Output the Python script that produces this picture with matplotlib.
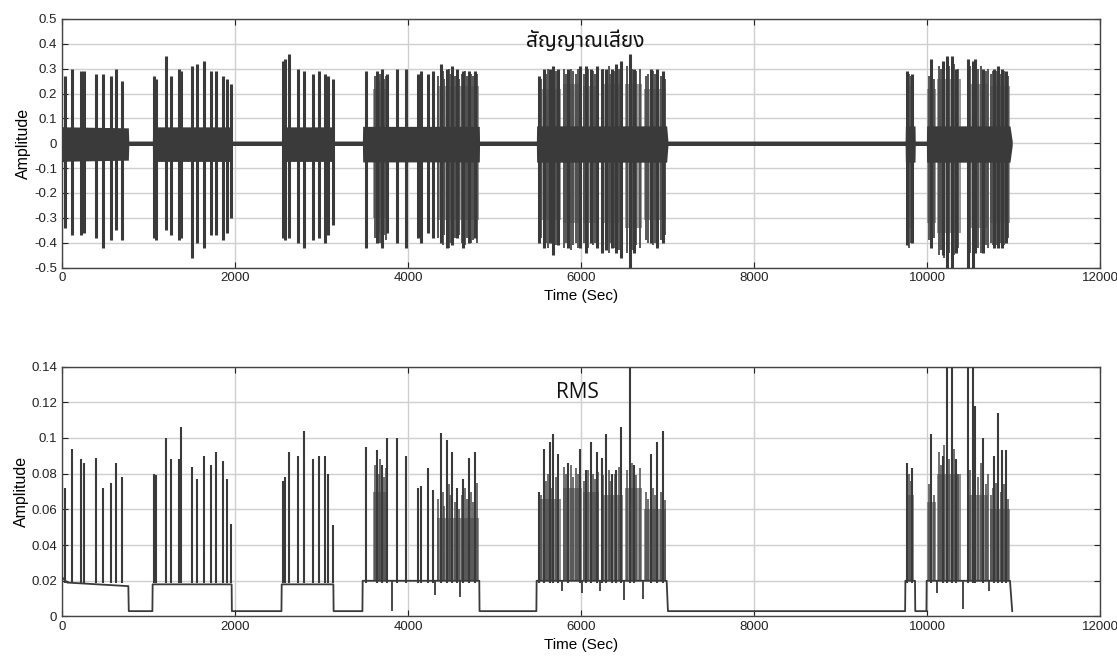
import matplotlib
matplotlib.use("Agg")
import matplotlib.pyplot as plt

plt.rcParams['font.family'] = ['Liberation Sans', 'DejaVu Sans']

# ---- data ----
xticks = [0, 2000, 4000, 6000, 8000, 10000, 12000]
top_yticks = [-0.5, -0.4, -0.3, -0.2, -0.1, 0, 0.1, 0.2, 0.3, 0.4, 0.5]
top_ylabels = ['-0.5', '-0.4', '-0.3', '-0.2', '-0.1', '0', '0.1', '0.2', '0.3', '0.4', '0.5']
bot_yticks = [0, 0.02, 0.04, 0.06, 0.08, 0.1, 0.12, 0.14]
bot_ylabels = ['0', '0.02', '0.04', '0.06', '0.08', '0.1', '0.12', '0.14']

# RMS floor (active stretches ~0.02, silent stretches ~0.003)
rms_base_t = [0, 60, 767, 772, 1045, 1048, 1961, 1964, 2537, 2540, 3137, 3140, 3473,
              3476, 4824, 4827, 5484, 5487, 6990, 7005, 9747, 9750, 9861, 9864, 9993,
              9996, 10959, 10985]
rms_base_v = [0.022, 0.019, 0.017, 0.003, 0.003, 0.018, 0.018, 0.003, 0.003, 0.018,
              0.018, 0.003, 0.003, 0.020, 0.020, 0.003, 0.003, 0.020, 0.020, 0.003,
              0.003, 0.020, 0.020, 0.003, 0.003, 0.020, 0.020, 0.003]

# signal envelope of the background noise
sig_env_hi = [0.067, 0.066, 0.062, 0.009, 0.009, 0.066, 0.066, 0.009, 0.009, 0.066,
              0.066, 0.009, 0.009, 0.068, 0.068, 0.009, 0.009, 0.070, 0.070, 0.009,
              0.009, 0.070, 0.070, 0.009, 0.009, 0.070, 0.070, 0.009]
sig_env_lo = [-0.074, -0.072, -0.068, -0.009, -0.009, -0.073, -0.073, -0.009, -0.009,
              -0.073, -0.073, -0.009, -0.009, -0.075, -0.075, -0.009, -0.009, -0.076,
              -0.076, -0.009, -0.009, -0.076, -0.076, -0.009, -0.009, -0.076, -0.076,
              -0.009]

# main spikes: time, RMS peak, signal max, signal min
spk_t = [35, 120, 220, 258, 393, 478, 563, 624, 690,
         1067, 1087, 1202, 1260, 1352, 1376, 1506, 1557, 1638, 1719, 1784, 1865, 1911, 1950,
         2559, 2578, 2624, 2732, 2801, 2898, 2975, 3040, 3079, 3129,
         3514, 3638, 3700, 3753, 3873, 3973, 4115, 4147, 4235, 4292, 4377, 4446, 4512,
         4570, 4640, 4705, 4774,
         5514, 5572, 5641, 5680, 5738, 5850, 5988, 6054, 6112, 6181, 6239, 6289, 6360,
         6410, 6462, 6566, 6610, 6805, 6882, 6951,
         9772, 9830, 10042, 10180, 10227, 10285, 10340, 10477, 10527, 10560, 10650,
         10780, 10823, 10870, 10912]
spk_rms = [0.072, 0.094, 0.088, 0.086, 0.089, 0.072, 0.075, 0.086, 0.078,
           0.080, 0.079, 0.100, 0.088, 0.088, 0.106, 0.084, 0.077, 0.090, 0.085, 0.092,
           0.087, 0.077, 0.052,
           0.076, 0.078, 0.092, 0.090, 0.104, 0.088, 0.090, 0.090, 0.080, 0.051,
           0.095, 0.093, 0.085, 0.100, 0.100, 0.090, 0.072, 0.073, 0.083, 0.071, 0.103,
           0.099, 0.092, 0.072, 0.077, 0.089, 0.092,
           0.070, 0.094, 0.098, 0.102, 0.091, 0.086, 0.094, 0.082, 0.098, 0.092, 0.089,
           0.102, 0.080, 0.082, 0.106, 0.160, 0.085, 0.091, 0.098, 0.104,
           0.086, 0.083, 0.102, 0.090, 0.160, 0.160, 0.088, 0.160, 0.160, 0.118, 0.100,
           0.090, 0.114, 0.093, 0.093]
spk_hi = [0.27, 0.30, 0.29, 0.29, 0.28, 0.28, 0.27, 0.30, 0.25,
          0.27, 0.26, 0.35, 0.27, 0.30, 0.29, 0.31, 0.32, 0.33, 0.29, 0.29, 0.27, 0.26, 0.24,
          0.33, 0.34, 0.36, 0.30, 0.29, 0.28, 0.29, 0.28, 0.27, 0.26,
          0.29, 0.29, 0.30, 0.28, 0.30, 0.30, 0.28, 0.29, 0.28, 0.29, 0.32, 0.30, 0.31,
          0.30, 0.29, 0.29, 0.29,
          0.27, 0.30, 0.30, 0.31, 0.30, 0.30, 0.31, 0.31, 0.30, 0.31, 0.30, 0.30, 0.30,
          0.32, 0.33, 0.36, 0.30, 0.30, 0.30, 0.29,
          0.29, 0.28, 0.34, 0.33, 0.35, 0.35, 0.30, 0.34, 0.33, 0.34, 0.30, 0.30, 0.31,
          0.30, 0.29]
spk_lo = [-0.34, -0.37, -0.37, -0.36, -0.38, -0.42, -0.39, -0.35, -0.39,
          -0.38, -0.39, -0.35, -0.37, -0.39, -0.38, -0.46, -0.40, -0.42, -0.37, -0.37,
          -0.39, -0.36, -0.30,
          -0.38, -0.39, -0.38, -0.40, -0.42, -0.39, -0.38, -0.40, -0.37, -0.33,
          -0.42, -0.40, -0.42, -0.36, -0.40, -0.42, -0.38, -0.40, -0.36, -0.38, -0.40,
          -0.42, -0.41, -0.38, -0.42, -0.40, -0.38,
          -0.40, -0.42, -0.40, -0.45, -0.41, -0.42, -0.42, -0.44, -0.40, -0.42, -0.44,
          -0.43, -0.42, -0.44, -0.46, -0.52, -0.44, -0.40, -0.42, -0.40,
          -0.41, -0.40, -0.42, -0.45, -0.52, -0.50, -0.44, -0.52, -0.50, -0.44, -0.44,
          -0.42, -0.42, -0.42, -0.40]

# smaller peaks packed inside the busy stretches
minor_t = [3620, 3660, 3680, 3720, 3740, 4350, 4400, 4420, 4470, 4490, 4540, 4590,
           4620, 4660, 4680, 4730, 4750, 4800, 5540, 5600, 5620, 5660, 5710, 5800,
           5830, 5880, 5910, 5940, 5970, 6040, 6080, 6140, 6160, 6200, 6260, 6320,
           6340, 6390, 6440, 6530, 6590, 6640, 6680, 6750, 6780, 6830, 6860, 6920,
           6970, 9790, 9810, 10020, 10080, 10140, 10160, 10200, 10250, 10310, 10360,
           10500, 10590, 10620, 10680, 10700, 10740, 10760, 10800, 10850, 10890, 10940]
minor_rms = [0.085, 0.080, 0.088, 0.078, 0.083, 0.066, 0.070, 0.062, 0.074, 0.068,
             0.064, 0.060, 0.068, 0.072, 0.066, 0.070, 0.064, 0.075, 0.068, 0.076,
             0.080, 0.072, 0.078, 0.084, 0.080, 0.085, 0.078, 0.083, 0.080, 0.076,
             0.082, 0.080, 0.077, 0.081, 0.079, 0.082, 0.076, 0.080, 0.084, 0.082,
             0.086, 0.079, 0.083, 0.070, 0.066, 0.072, 0.068, 0.070, 0.065, 0.080,
             0.076, 0.074, 0.068, 0.092, 0.085, 0.096, 0.088, 0.094, 0.080, 0.082,
             0.078, 0.086, 0.074, 0.080, 0.068, 0.072, 0.075, 0.070, 0.074, 0.066]
minor_hi = [0.27, 0.25, 0.28, 0.26, 0.27, 0.27, 0.29, 0.26, 0.30, 0.28, 0.27, 0.26,
            0.28, 0.29, 0.27, 0.28, 0.27, 0.28, 0.26, 0.28, 0.30, 0.27, 0.29, 0.30,
            0.28, 0.30, 0.29, 0.28, 0.30, 0.28, 0.30, 0.29, 0.28, 0.29, 0.30, 0.31,
            0.28, 0.29, 0.30, 0.31, 0.30, 0.29, 0.30, 0.27, 0.28, 0.29, 0.28, 0.27,
            0.26, 0.28, 0.27, 0.27, 0.26, 0.31, 0.30, 0.32, 0.31, 0.32, 0.30, 0.31,
            0.30, 0.31, 0.29, 0.30, 0.28, 0.29, 0.29, 0.28, 0.29, 0.27]
minor_lo = [-0.38, -0.36, -0.40, -0.37, -0.39, -0.38, -0.41, -0.37, -0.42, -0.40,
            -0.38, -0.37, -0.40, -0.41, -0.38, -0.40, -0.39, -0.40, -0.38, -0.40,
            -0.42, -0.39, -0.41, -0.42, -0.40, -0.43, -0.41, -0.40, -0.42, -0.40,
            -0.42, -0.41, -0.40, -0.41, -0.42, -0.44, -0.40, -0.42, -0.43, -0.44,
            -0.43, -0.41, -0.42, -0.39, -0.40, -0.41, -0.40, -0.39, -0.37, -0.42,
            -0.40, -0.39, -0.38, -0.45, -0.43, -0.46, -0.44, -0.45, -0.42, -0.44,
            -0.42, -0.44, -0.41, -0.42, -0.40, -0.41, -0.41, -0.40, -0.41, -0.38]

# short drops of the RMS inside active stretches
dip_t = [3811, 4312, 4601, 5776, 6015, 6219, 6500, 6720, 10111, 10420, 10719]
dip_v = [0.003, 0.012, 0.011, 0.014, 0.013, 0.014, 0.009, 0.010, 0.013, 0.004, 0.014]

# dense, busy stretches: start, end, RMS top, signal max, signal min
blk_start = [3600, 4330, 5520, 5790, 6025, 6230, 6510, 6730, 9755, 10000, 10120, 10470, 10730]
blk_end = [3760, 4820, 5770, 6010, 6210, 6490, 6710, 6985, 9855, 10105, 10390, 10710, 10955]
blk_rms = [0.070, 0.055, 0.066, 0.072, 0.070, 0.068, 0.072, 0.060, 0.068, 0.064, 0.080,
           0.068, 0.060]
blk_hi = [0.22, 0.23, 0.22, 0.24, 0.23, 0.24, 0.24, 0.22, 0.23, 0.22, 0.26, 0.24, 0.23]
blk_lo = [-0.30, -0.31, -0.31, -0.32, -0.32, -0.32, -0.34, -0.31, -0.34, -0.32, -0.36,
          -0.34, -0.32]

col = '#3a3a3a'
fig = plt.figure(figsize=(11.17, 6.72), dpi=100)
ax1 = fig.add_axes([0.0555, 0.6018, 0.9293, 0.3700])
ax2 = fig.add_axes([0.0555, 0.0826, 0.9293, 0.3720])

# top: raw signal
for s, e, h, l in zip(blk_start, blk_end, blk_hi, blk_lo):
    ax1.fill_between([s, e], [l, l], [h, h], color='#707070', lw=0, alpha=0.7, zorder=2)
ax1.vlines(minor_t, minor_lo, minor_hi, color='#4a4a4a', lw=1.3, zorder=3)
ax1.fill_between(rms_base_t, sig_env_lo, sig_env_hi, color=col, lw=0, zorder=4)
ax1.vlines(spk_t, spk_lo, spk_hi, color=col, lw=2.2, zorder=4)

# bottom: RMS
for s, e, r in zip(blk_start, blk_end, blk_rms):
    ax2.fill_between([s, e], [0.02, 0.02], [r, r], color='#6a6a6a', lw=0, alpha=0.75, zorder=2)
ax2.vlines(minor_t, 0.02, minor_rms, color='#4a4a4a', lw=1.1, zorder=3)
ax2.plot(rms_base_t, rms_base_v, color=col, lw=1.3, zorder=4)
ax2.vlines(spk_t, 0.019, spk_rms, color=col, lw=1.5, zorder=4)
ax2.vlines(dip_t, dip_v, 0.02, color=col, lw=1.3, zorder=4)

for ax, yt, yl, ylim in [(ax1, top_yticks, top_ylabels, (-0.5, 0.5)),
                         (ax2, bot_yticks, bot_ylabels, (0, 0.14))]:
    ax.set_xlim(0, 12000)
    ax.set_ylim(*ylim)
    ax.set_xticks(xticks)
    ax.set_xticklabels([str(x) for x in xticks])
    ax.set_yticks(yt)
    ax.set_yticklabels(yl)
    ax.grid(True, color='#cfcfcf', lw=1.0, zorder=0)
    ax.set_axisbelow(True)
    ax.tick_params(direction='in', top=True, right=True, length=4,
                   labelsize=9.5, colors='#222222')
    for sp in ax.spines.values():
        sp.set_color('#444444')
        sp.set_linewidth(1.0)
    ax.set_xlabel('Time (Sec)', fontsize=11, labelpad=3)
    ax.set_ylabel('Amplitude', fontsize=11.5, labelpad=2)

ax1.text(6045, 0.41, 'สัญญาณเสียง', ha='center', va='center', fontsize=15,
         fontweight='bold', color='#111111',
         family=['Noto Sans Thai', 'Noto Sans Thai UI', 'Loma', 'Garuda', 'Tlwg Typo',
                 'Noto Sans', 'DejaVu Sans'])
ax2.text(5960, 0.1254, 'RMS', ha='center', va='center', fontsize=15,
         color='#111111', family=['Open Sans', 'DejaVu Sans'])

fig.savefig('out.png', dpi=100, facecolor='white')
